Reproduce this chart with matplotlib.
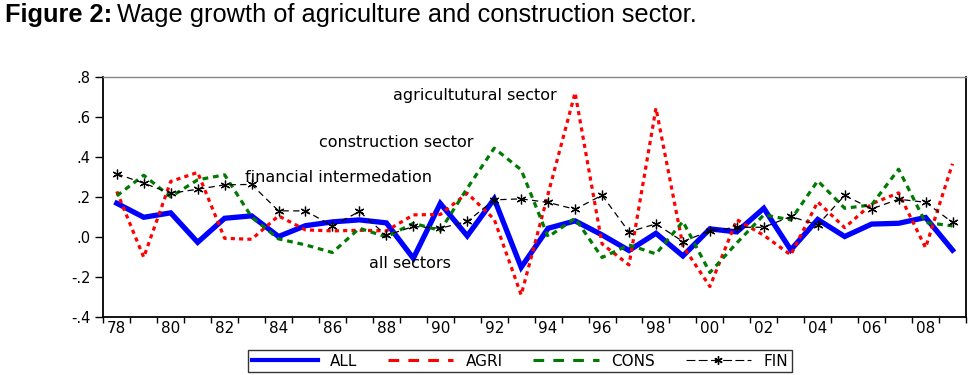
import matplotlib
matplotlib.use("Agg")
import matplotlib.pyplot as plt
from matplotlib.lines import Line2D
from matplotlib import font_manager

years = list(range(1978, 2010))
all_sectors = [0.168, 0.098, 0.120, -0.027, 0.093, 0.105, 0.002, 0.056, 0.075, 0.085,
               0.070, -0.107, 0.167, 0.005, 0.190, -0.152, 0.043, 0.080, 0.010, -0.068,
               0.018, -0.095, 0.040, 0.025, 0.143, -0.065, 0.087, 0.002, 0.064, 0.068,
               0.097, -0.066]
agri = [0.227, -0.102, 0.277, 0.322, -0.007, -0.012, 0.105, 0.035, 0.030, 0.033,
        0.030, 0.110, 0.112, 0.218, 0.088, -0.290, 0.215, 0.720, -0.035, -0.140,
        0.643, -0.045, -0.248, 0.086, 0.008, -0.090, 0.175, 0.046, 0.165, 0.220,
        -0.054, 0.365]
cons = [0.205, 0.308, 0.200, 0.285, 0.310, 0.100, -0.010, -0.040, -0.078, 0.043,
        0.000, 0.068, 0.032, 0.243, 0.443, 0.335, 0.000, 0.093, -0.103, -0.040,
        -0.085, 0.077, -0.178, -0.030, 0.110, 0.085, 0.280, 0.143, 0.160, 0.338,
        0.072, 0.055]
fin = [0.315, 0.268, 0.218, 0.238, 0.260, 0.262, 0.130, 0.130, 0.055, 0.127,
       0.007, 0.052, 0.043, 0.077, 0.185, 0.190, 0.172, 0.138, 0.208, 0.025,
       0.065, -0.023, 0.030, 0.048, 0.048, 0.102, 0.060, 0.207, 0.140, 0.188,
       0.173, 0.072]
series_names = ["ALL", "AGRI", "CONS", "FIN"]
ytick_vals = [-0.4, -0.2, 0.0, 0.2, 0.4, 0.6, 0.8]
ytick_labels = ["-.4", "-.2", ".0", ".2", ".4", ".6", ".8"]
xlabel_years = list(range(1978, 2009, 2))
xlabel_text = ["%02d" % (y % 100) for y in xlabel_years]
annotations = [("agricultutural sector", 1991.3, 0.705),
               ("construction sector", 1988.36, 0.47),
               ("financial intermedation", 1986.22, 0.2975),
               ("all sectors", 1988.88, -0.135)]

avail = {f.name for f in font_manager.fontManager.ttflist}
sans = "Liberation Sans" if "Liberation Sans" in avail else "DejaVu Sans"
plt.rcParams['font.family'] = ['DejaVu Sans']

fig = plt.figure(figsize=(9.72, 3.75), dpi=100)
ax = fig.add_axes([103.3 / 972, 1 - 317 / 375, (966 - 103.3) / 972, (317 - 76.7) / 375])

ax.plot(years, all_sectors, color="#0000ff", lw=3.8, solid_joinstyle="miter", zorder=2)
ax.plot(years, agri, color="#ff0000", lw=2.3, dashes=(1.3, 1.3), zorder=3)
ax.plot(years, cons, color="#007a00", lw=2.3, dashes=(1.8, 1.5), zorder=4)
ax.plot(years, fin, color="black", lw=0.9, dashes=(5, 3.5), marker=(6, 2, 0),
        markersize=7, markeredgewidth=0.9, zorder=5)

ax.set_xlim(1977.5, 2009.5)
ax.set_ylim(-0.4, 0.8)
ax.set_yticks(ytick_vals)
ax.set_yticklabels(ytick_labels, fontsize=10.5)
ax.set_xticks([y + 0.5 for y in range(1977, 2010)])
ax.set_xticklabels([])
ax.set_xticks(xlabel_years, minor=True)
ax.set_xticklabels(xlabel_text, minor=True, fontsize=11)
ax.tick_params(axis='x', which='major', direction='out', length=4, width=1)
ax.tick_params(axis='x', which='minor', length=0, pad=3)
ax.tick_params(axis='y', direction='out', length=6, width=1, pad=3)

for s in ["left", "bottom", "right"]:
    ax.spines[s].set_linewidth(1.3)
    ax.spines[s].set_color("black")
ax.spines["top"].set_color("#888888")
ax.spines["top"].set_linewidth(1.0)

for txt, x, y in annotations:
    ax.text(x, y, txt, ha="center", va="center", fontsize=11.5, family="DejaVu Sans")

handles = [Line2D([], [], color="#0000ff", lw=3),
           Line2D([], [], color="#ff0000", lw=2.2, dashes=(3.5, 3)),
           Line2D([], [], color="#007a00", lw=2.2, dashes=(3.5, 3)),
           Line2D([], [], color="black", lw=0.8, dashes=(8, 3), marker=(6, 2, 0),
                  markersize=6, markevery=[1])]
leg = fig.legend(handles, series_names, loc="center", ncol=4,
                 bbox_to_anchor=(520 / 972, 1 - 361 / 375), fontsize=11,
                 handlelength=4.3, columnspacing=2.0, handletextpad=0.8,
                 frameon=True, fancybox=False, borderpad=0.25, borderaxespad=0)
leg.get_frame().set_edgecolor("black")
leg.get_frame().set_linewidth(1.0)

t1 = fig.text(5 / 972, 1 - 15 / 375, "Figure 2:", fontsize=18.3, fontweight="bold",
              family=sans, va="center", ha="left")
fig.canvas.draw()
r = fig.canvas.get_renderer()
bb = t1.get_window_extent(r)
fig.text((bb.x1 + 5) / 972, 1 - 15 / 375, "Wage growth of agriculture and construction sector.",
         fontsize=18.3, family=sans, va="center", ha="left")

fig.savefig("out.png", dpi=100)
